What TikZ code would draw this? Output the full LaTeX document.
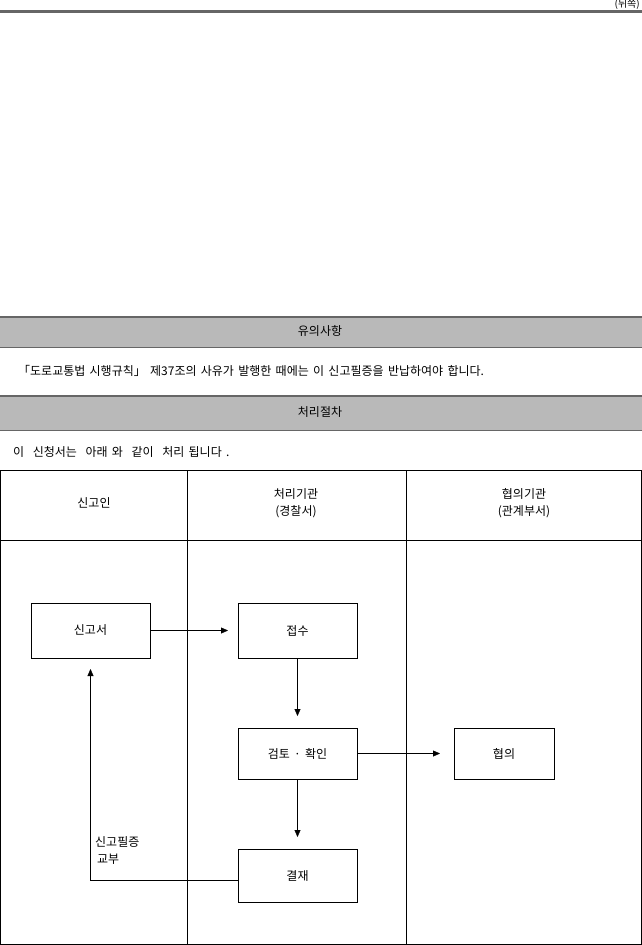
\documentclass[tikz,border=0pt]{standalone}
\usepackage{fontspec}
\setmainfont{Noto Sans CJK KR}[WordSpace={1.6}]
\usetikzlibrary{arrows.meta}
\definecolor{band}{HTML}{B9B9B9}
\definecolor{bline}{HTML}{666666}
\begin{document}
\begin{tikzpicture}[x=1pt,y=-1pt,
  txt/.style={font=\fontsize{12}{14}\selectfont,inner sep=0pt},
  box/.style={draw,thin,txt},
  arr/.style={-{Triangle[length=7pt,width=6pt]},thin}]
\useasboundingbox (0,0) rectangle (642,945);
% top
\draw[bline,line width=3pt] (0,11) -- (642,11);
\node[txt,anchor=east,font=\fontsize{10}{10}\selectfont] (back) at (640,4) {(뒤쪽)};
% band 1
\fill[band] (0,317) rectangle (642,347);
\draw[bline,line width=2.5pt] (0,317) -- (642,317);
\draw[bline,line width=1pt] (0,347) -- (642,347);
\node[txt] (h1) at (320,331) {유의사항};
\node[txt,anchor=west] (t1) at (18,371) {「도로교통법 시행규칙」 제37조의 사유가 발행한 때에는 이 신고필증을 반납하여야 합니다.};
% band 2
\fill[band] (0,396) rectangle (642,430);
\draw[bline,line width=2.5pt] (0,396) -- (642,396);
\draw[bline,line width=1pt] (0,430) -- (642,430);
\node[txt] (h2) at (320,412) {처리절차};
\node[txt,anchor=west] (t2) at (13,452) {이 \ 신청서는 \ 아래 와 \ 같이 \ 처리 됩니다 .};
% table
\draw[line width=1pt] (0,470) -- (642,470);
\draw[thin] (0.5,470) -- (0.5,944) (187,470) -- (187,944) (406,470) -- (406,944) (641,470) -- (641,944);
\draw[thin] (0,540) -- (642,540);
\draw[line width=1pt] (0,944) -- (642,944);
\node[txt] (c1) at (94,503) {신고인};
\node[txt,align=center] (c2) at (296,503) {처리기관\\[3pt](경찰서)};
\node[txt,align=center] (c3) at (524,503) {협의기관\\[3pt](관계부서)};
% boxes
\node[box,minimum width=119pt,minimum height=55pt] (a) at (90.5,630.5) {신고서};
\node[box,minimum width=119pt,minimum height=55pt] (b) at (297.5,630.5) {접수};
\node[box,minimum width=119pt,minimum height=51pt] (c) at (297.5,753.5) {검토 · 확인};
\node[box,minimum width=100pt,minimum height=51pt] (d) at (504,753.5) {협의};
\node[box,minimum width=119pt,minimum height=53pt] (e) at (297.5,875.5) {결재};
\coordinate (bin) at (228,630.5);
\coordinate (cin) at (297.5,716);
\coordinate (din) at (440,753.5);
\coordinate (ein) at (297.5,837);
\coordinate (corner) at (90.5,880);
\coordinate (ain) at (90.5,669);
\draw[arr] (a) -- (bin);
\draw[arr] (b) -- (cin);
\draw[arr] (c) -- (din);
\draw[arr] (c) -- (ein);
\draw[arr] (e.west |- corner) -- (corner) -- (ain);
\node[txt,align=left,anchor=north west] (lab) at (95,836) {신고필증\\[3pt]\,교부};
\end{tikzpicture}
\end{document}
